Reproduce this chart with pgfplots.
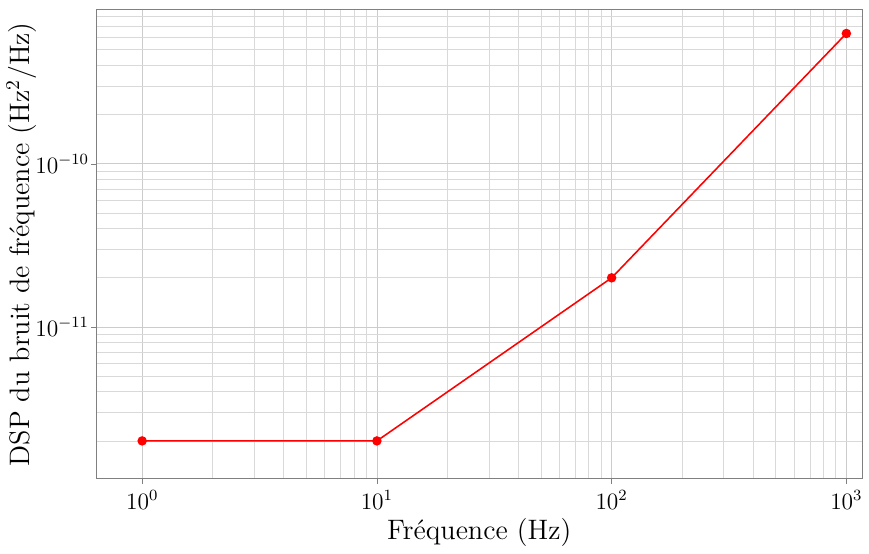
\documentclass[border=0pt]{standalone}
\usepackage{pgfplots}
\pgfplotsset{compat=1.18}
\begin{document}
\begin{tikzpicture}
\begin{loglogaxis}[
  scale only axis,
  width=392pt, height=240pt,
  xmin=0.637, xmax=1170,
  ymin=1.17e-12, ymax=8.8e-10,
  grid=both,
  major grid style={gray!40, line width=0.4pt},
  minor grid style={gray!30, line width=0.4pt},
  axis line style={gray},
  tick align=outside,
  tick pos=left,
  major tick length=2.5pt,
  minor tick length=0pt,
  tick style={gray},
  xtick={1,10,100,1000},
  tick label style={font=\large},
  yticklabel style={inner sep=1pt},
  label style={font=\Large},
  xlabel={Fréquence (Hz)},
  ylabel={DSP du bruit de fréquence (Hz$^2$/Hz)},
  ylabel style={yshift=-5pt},
  xlabel style={yshift=2pt},
]
\addplot[red, line width=0.8pt, mark=*, mark size=2pt] coordinates {
  (1,2e-12) (10,2e-12) (100,2e-11) (1000,6.3e-10)
};
\end{loglogaxis}
\path (current axis.north) ++(0,5pt);
\end{tikzpicture}
\end{document}
